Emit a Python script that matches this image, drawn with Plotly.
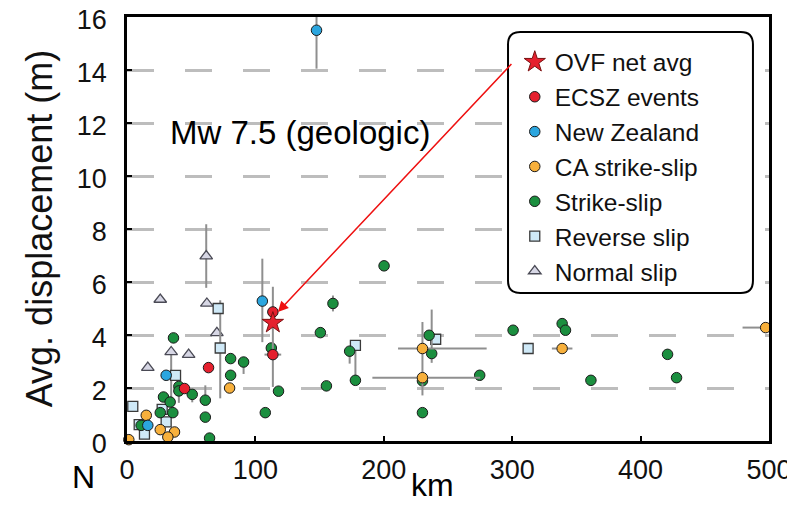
import plotly.graph_objects as go

FONT = "Liberation Sans"

# ---- data (km, m) ----
normal_x = [61.7, 25.9, 62.2, 70.0, 34.4, 48.0, 16.2]
normal_y = [6.98, 5.34, 5.19, 4.08, 3.36, 3.26, 2.77]
normal_ep = [1.2, 0, 0, 0, 0, 0, 0]
normal_em = [1.2, 0, 0, 0, 1.8, 0, 0]

reverse_x = [71.0, 72.6, 37.8, 4.5, 27.4, 30.5, 9.5, 13.6, 177.9, 240.4, 312.4]
reverse_y = [5.00, 3.51, 2.48, 1.31, 1.19, 0.72, 0.62, 0.26, 3.61, 3.84, 3.49]
reverse_ep = [0, 1.8, 0, 0, 0, 0, 0, 0, 0, 0, 0]
reverse_em = [0, 1.9, 0, 0, 0, 0, 0, 0, 1.3, 0, 0]

strike_x = [36.2, 80.7, 90.8, 80.7, 112.4, 118.0, 107.7, 40.4, 40.4, 50.8, 61.0, 61.0,
            64.3, 28.4, 33.6, 25.9, 35.7, 11.0, 200.2, 160.4, 150.6, 173.4, 177.9, 155.3,
            235.3, 237.3, 230.1, 230.1, 274.7, 300.7, 338.9, 341.5, 361.3, 421.0, 428.0]
strike_y = [3.89, 3.11, 2.98, 2.48, 3.51, 1.88, 1.07, 2.06, 1.89, 1.76, 1.54, 0.90,
            0.11, 1.66, 1.47, 1.07, 1.07, 0.59, 6.61, 5.19, 4.09, 3.39, 2.29, 2.08,
            3.99, 3.30, 2.27, 1.07, 2.48, 4.18, 4.43, 4.18, 2.29, 3.27, 2.39]
strike_ep = [0, 0, 0, 0, 0, 0, 0, 0, 0, 0, 0.56, 0,
             0, 0, 0, 0, 0, 0, 0, 0.3, 0, 0, 0, 0,
             0, 1.66, 0, 0, 0, 0, 0, 0, 0, 0, 0]
strike_em = [0, 0, 0.45, 0, 0, 0, 0, 0, 0.45, 0.3, 0, 0,
             0, 0, 0, 0, 0, 0, 0, 0.3, 0, 0.47, 0, 0,
             0, 0.35, 0, 0, 0, 0, 0, 0, 0, 0, 0]

ca_x = [79.9, 15.0, 25.9, 37.0, 31.8, 1.4, 230.1, 230.1, 338.9, 497.4]
ca_y = [2.00, 0.97, 0.43, 0.34, 0.15, 0.05, 3.49, 2.39, 3.49, 4.28]
ca_ep = [0, 0, 0, 0, 0, 0, 1.0, 0, 0, 0]
ca_em = [0, 0, 0, 0, 0, 0, 1.1, 0.67, 0, 0]
ca_xp = [0, 0, 0, 0, 0, 0, 50, 45, 8, 0]
ca_xm = [0, 0, 0, 0, 0, 0, 19, 39, 8, 18]

nz_x = [147.6, 105.4, 30.5, 16.2]
nz_y = [15.5, 5.28, 2.48, 0.59]
nz_ep = [0.6, 1.6, 0, 0]
nz_em = [1.45, 1.55, 0, 0]

ecsz_x = [113.6, 113.6, 63.5, 44.8]
ecsz_y = [4.87, 3.26, 2.77, 1.98]
ecsz_ep = [0, 2.56, 0, 0]
ecsz_em = [0, 1.22, 0, 0]
ecsz_xp = [0, 6.5, 0, 0]
ecsz_xm = [0, 6.5, 0, 0]

ovf_x = [113.6]
ovf_y = [4.46]

x_ticks = [0, 100, 200, 300, 400, 500]
y_ticks = [0, 2, 4, 6, 8, 10, 12, 14, 16]

ERR = "#8f8f8f"


def err(p, m):
    return dict(type="data", symmetric=False, array=p, arrayminus=m,
                color=ERR, thickness=2, width=0)


fig = go.Figure()

fig.add_trace(go.Scatter(x=normal_x, y=normal_y, mode="markers", name="Normal slip",
                         error_y=err(normal_ep, normal_em),
                         marker=dict(symbol="triangle-up", size=11, color="#d7d7e5",
                                     line=dict(color="#4a4a55", width=1.3))))
fig.add_trace(go.Scatter(x=reverse_x, y=reverse_y, mode="markers", name="Reverse slip",
                         error_y=err(reverse_ep, reverse_em),
                         marker=dict(symbol="square", size=10, color="#cfe9f7",
                                     line=dict(color="#3a3a3a", width=1.3))))
fig.add_trace(go.Scatter(x=strike_x, y=strike_y, mode="markers", name="Strike-slip",
                         error_y=err(strike_ep, strike_em),
                         marker=dict(symbol="circle", size=10.5, color="#1b8f3f",
                                     line=dict(color="#1a1a1a", width=1))))
fig.add_trace(go.Scatter(x=ca_x, y=ca_y, mode="markers", name="CA strike-slip",
                         error_y=err(ca_ep, ca_em), error_x=err(ca_xp, ca_xm),
                         marker=dict(symbol="circle", size=10.5, color="#f7b03c",
                                     line=dict(color="#1a1a1a", width=1))))
fig.add_trace(go.Scatter(x=nz_x, y=nz_y, mode="markers", name="New Zealand",
                         error_y=err(nz_ep, nz_em),
                         marker=dict(symbol="circle", size=10.5, color="#2ba6df",
                                     line=dict(color="#1a1a1a", width=1))))
fig.add_trace(go.Scatter(x=ecsz_x, y=ecsz_y, mode="markers", name="ECSZ events",
                         error_y=err(ecsz_ep, ecsz_em), error_x=err(ecsz_xp, ecsz_xm),
                         marker=dict(symbol="circle", size=10.5, color="#e5202e",
                                     line=dict(color="#1a1a1a", width=1))))
fig.add_trace(go.Scatter(x=ovf_x, y=ovf_y, mode="markers", name="OVF net avg",
                         marker=dict(symbol="star", size=16, color="#e5202e",
                                     line=dict(color="#7a1010", width=1))))

# rounded legend frame (paper coords)
x0, x1, y0, y1 = 0.5935, 0.975, 0.349, 0.9646
rx, ry = 0.019, 0.029
path = (f"M {x0+rx},{y1} L {x1-rx},{y1} Q {x1},{y1} {x1},{y1-ry} "
        f"L {x1},{y0+ry} Q {x1},{y0} {x1-rx},{y0} L {x0+rx},{y0} "
        f"Q {x0},{y0} {x0},{y0+ry} L {x0},{y1-ry} Q {x0},{y1} {x0+rx},{y1} Z")
fig.add_shape(type="path", path=path, xref="paper", yref="paper",
              line=dict(color="black", width=2), fillcolor="white", layer="above")

fig.add_annotation(x=117.5, y=4.87, ax=300.5, ay=14.28, xref="x", yref="y",
                   axref="x", ayref="y", text="", showarrow=True,
                   arrowhead=2, arrowsize=1.4, arrowwidth=1.5, arrowcolor="#ee1111")

fig.add_annotation(x=134.5, y=11.63, xref="x", yref="y", text="Mw 7.5 (geologic)",
                   xanchor="center", yanchor="middle",
                   showarrow=False, font=dict(size=33, color="black", family=FONT))
fig.add_annotation(x=-0.136, y=0.501, xref="paper", yref="paper",
                   xanchor="center", yanchor="middle",
                   text="Avg. displacement (m)", textangle=-90, showarrow=False,
                   font=dict(size=36, color="#111", family=FONT))
fig.add_annotation(x=-0.067, y=-0.085, xref="paper", yref="paper", text="N",
                   xanchor="center", yanchor="middle",
                   showarrow=False, font=dict(size=32, color="black", family=FONT))
fig.add_annotation(x=0.4766, y=-0.15, xref="paper", yref="paper", text="km",
                   xanchor="center", yanchor="bottom",
                   showarrow=False, font=dict(size=32, color="black", family=FONT))

# page body adds an 8px offset, so the figure is 8px smaller than the window
fig.update_layout(
    width=787, height=498,
    margin=dict(l=119, r=26, t=9, b=65, autoexpand=False),
    paper_bgcolor="white", plot_bgcolor="white",
    font=dict(family=FONT, color="#111"),
    showlegend=True,
    legend=dict(x=0.604, y=0.947, xanchor="left", yanchor="top",
                traceorder="reversed", bgcolor="rgba(0,0,0,0)", borderwidth=0,
                font=dict(size=24.5, family=FONT, color="#111"),
                itemsizing="trace"),
    xaxis=dict(range=[0, 500], tickvals=x_ticks, showgrid=False, zeroline=False,
               automargin=False, ticklabeloverflow="allow",
               showline=True, linecolor="black", linewidth=2.5, mirror=True,
               ticks="inside", ticklen=5, tickwidth=2, tickcolor="black",
               tickfont=dict(size=27, family=FONT, color="#111"),
               ticklabelstandoff=3),
    yaxis=dict(range=[0, 16], tickvals=y_ticks, showgrid=True, gridcolor="#bdbdbd",
               gridwidth=3, griddash="27px,31px", zeroline=False, automargin=False,
               ticklabeloverflow="allow", ticklabelshift=3,
               showline=True, linecolor="black", linewidth=2.5, mirror=True,
               ticks="inside", ticklen=5, tickwidth=2, tickcolor="black",
               tickfont=dict(size=27, family=FONT, color="#111"),
               ticklabelstandoff=12),
)
for tr in fig.data:
    tr.cliponaxis = False

fig.write_html("out.html")
